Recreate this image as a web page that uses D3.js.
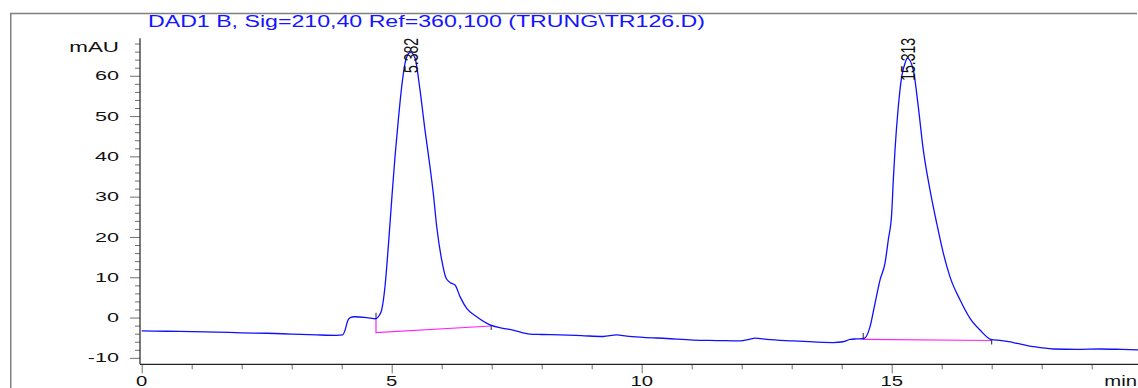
<!DOCTYPE html>
<html>
<head>
<meta charset="utf-8">
<script src="https://cdn.jsdelivr.net/npm/d3@7"></script>
<style>
    body { margin: 0; background: #fff; }
    svg { display: block; font-family: "Liberation Sans", Arial, sans-serif; }
</style>
</head>
<body>
<div id="chart"></div>
<script>
// signal trace, time in min and absorbance in mAU
const traceTime = [0, 0.5, 1.0, 1.5, 2.0, 2.5, 3.0, 3.5, 3.9, 4.02, 4.07, 4.12, 4.17, 4.25, 4.5, 4.686,
    4.75, 4.8, 4.866, 4.932, 5.0, 5.066, 5.132, 5.2, 5.266, 5.33, 5.38, 5.466, 5.566, 5.666, 5.766, 5.832,
    5.9, 6.0, 6.086, 6.166, 6.266, 6.366, 6.5, 6.7, 6.966, 7.2, 7.426, 7.766, 8.0, 8.37, 8.8, 9.23, 9.5,
    9.7, 10.03, 10.5, 11.03, 11.5, 11.97, 12.15, 12.27, 12.5, 13.03, 13.5, 13.83, 14.03, 14.17, 14.3,
    14.446, 14.566, 14.666, 14.766, 14.866, 14.932, 15.0, 15.032, 15.066, 15.132, 15.2, 15.266, 15.313,
    15.432, 15.532, 15.632, 15.766, 15.9, 16.032, 16.166, 16.366, 16.566, 16.766, 17.0, 17.2, 17.43,
    17.83, 18.23, 18.7, 19.17, 19.6, 19.93];
const traceSignal = [-3.3, -3.4, -3.5, -3.6, -3.8, -3.9, -4.1, -4.3, -4.4, -4.3, -3.0, -0.8, 0.0, 0.2, 0.0, -0.3,
    0.5, 1.9, 7.7, 17.6, 29.2, 39.9, 49.0, 57.3, 63.1, 65.4, 65.8, 64.4, 56.5, 46.5, 37.4, 30.8,
    22.6, 14.3, 9.8, 8.7, 8.1, 5.2, 2.3, 0.2, -1.8, -2.6, -3.1, -4.1, -4.2, -4.3, -4.5, -4.7, -4.3,
    -4.6, -4.9, -5.2, -5.6, -5.7, -5.8, -5.4, -5.1, -5.4, -5.8, -6.1, -6.2, -6.0, -5.4, -5.3,
    -5.2, -2.3, 3.5, 9.3, 13.5, 19.3, 25.9, 34.1, 41.6, 52.3, 59.8, 63.1, 64.4,
    61.4, 52.3, 41.6, 31.7, 23.4, 16.0, 10.1, 4.4, -0.2, -3.1, -5.5, -5.7, -6.2,
    -7.2, -7.8, -7.9, -7.8, -7.9, -8.0];

// integrated peaks
const peakTimes = [5.382, 15.313];
const peakLabels = ["5.382", "15.313"];
const baseStart = [[4.686, -3.75], [14.43, -5.4]];
const baseEnd = [[6.99, -2.1], [17.0, -5.7]];
const peakStartSignal = [-0.3, -5.3];

const yTicks = [-10, 0, 10, 20, 30, 40, 50, 60];
const xTicks = [0, 5, 10, 15];
const title = "DAD1 B, Sig=210,40 Ref=360,100 (TRUNG\\TR126.D)";

class ChromatogramD3 {
    size = {width: 1138, height: 388};
    axisX = 140;
    axisY = 364.3;
    yStretch = 1.6;
    xStretch = 1.45;
    svg;
    xScale;
    yScale;

    constructor(el){
        this.el = el;
    }

    create(){
        this.svg = d3.select(this.el).append("svg")
            .attr("width", this.size.width)
            .attr("height", this.size.height);

        this.xScale = d3.scaleLinear().domain([0, 20]).range([141.7, 1141.7]);
        this.yScale = d3.scaleLinear().domain([-11.6, 69.3]).range([364.3, 38.3]);

        // frame
        this.svg.append("path")
            .attr("d", "M10.75,388 V13.5 H1137")
            .attr("fill", "none")
            .attr("stroke", "#808080")
            .attr("stroke-width", 1.5);

        this.svg.append("text")
            .attr("x", 148).attr("y", 26.5)
            .attr("font-size", 16)
            .attr("fill", "#1414ff")
            .attr("textLength", 557)
            .attr("lengthAdjust", "spacingAndGlyphs")
            .text(title);
    }

    renderAxes(){
        const yMinor = d3.range(-10, 70, 2).filter(v => v % 10 !== 0);
        const yAxisG = this.svg.append("g")
            .attr("class", "yAxisG")
            .attr("transform", "translate(" + this.axisX + ",0)");
        yAxisG.append("g")
            .call(d3.axisLeft(this.yScale).tickValues(yMinor).tickSize(5).tickFormat(""))
            .call(g => g.select(".domain").remove());
        yAxisG.append("g")
            .call(d3.axisLeft(this.yScale).tickValues(yTicks).tickSize(10).tickFormat(""))
            .call(g => g.select(".domain").remove());
        yAxisG.selectAll(".tick line").attr("stroke", "#707070");

        // the print is stretched sideways, so labels are widened with a scale
        this.svg.append("g")
            .attr("class", "yLabelG")
            .selectAll(".yLabel")
            .data(yTicks)
            .join("text")
            .attr("class", "yLabel")
            .attr("transform", d => "translate(119," + (this.yScale(d) + 4.6) + ") scale(" + this.yStretch + ",1)")
            .attr("text-anchor", "end")
            .attr("font-size", 13.5)
            .attr("fill", "#111")
            .text(d => d);

        this.svg.append("text")
            .attr("transform", "translate(119,52.3) scale(" + this.yStretch + ",1)")
            .attr("text-anchor", "end")
            .attr("font-size", 14)
            .attr("fill", "#111")
            .text("mAU");

        const xMinor = d3.range(0, 20, 1).filter(v => v % 5 !== 0);
        const xAxisG = this.svg.append("g")
            .attr("class", "xAxisG")
            .attr("transform", "translate(0," + this.axisY + ")");
        xAxisG.append("g")
            .call(d3.axisBottom(this.xScale).tickValues(xMinor).tickSize(5).tickFormat(""))
            .call(g => g.select(".domain").remove());
        xAxisG.append("g")
            .call(d3.axisBottom(this.xScale).tickValues(xTicks).tickSize(9).tickFormat(""))
            .call(g => g.select(".domain").remove());
        xAxisG.selectAll(".tick line").attr("stroke", "#707070");

        this.svg.append("g")
            .attr("class", "xLabelG")
            .selectAll(".xLabel")
            .data(xTicks)
            .join("text")
            .attr("class", "xLabel")
            .attr("transform", d => "translate(" + this.xScale(d) + ",385.6) scale(" + this.xStretch + ",1)")
            .attr("text-anchor", "middle")
            .attr("font-size", 14)
            .attr("fill", "#111")
            .text(d => d);

        this.svg.append("text")
            .attr("transform", "translate(1137,385.6) scale(" + this.xStretch + ",1)")
            .attr("text-anchor", "end")
            .attr("font-size", 14)
            .attr("fill", "#111")
            .text("min");

        // axis lines
        this.svg.append("line")
            .attr("x1", this.axisX).attr("x2", this.axisX)
            .attr("y1", this.yScale.range()[1]).attr("y2", this.axisY)
            .attr("stroke", "#222").attr("stroke-width", 1.2);
        this.svg.append("line")
            .attr("x1", this.axisX).attr("x2", this.size.width)
            .attr("y1", this.axisY).attr("y2", this.axisY)
            .attr("stroke", "#222").attr("stroke-width", 1.2);
    }

    renderTrace(){
        const points = traceTime.map((t, i) => ({t: t, v: traceSignal[i]}));
        const line = d3.line()
            .x(d => this.xScale(d.t))
            .y(d => this.yScale(d.v))
            .curve(d3.curveMonotoneX);

        // baselines under peaks
        const baseG = this.svg.append("g").attr("class", "baseG");
        baseG.selectAll(".baseLine")
            .data(baseStart.map((s, i) => ({s: s, e: baseEnd[i], top: peakStartSignal[i]})))
            .join("path")
            .attr("class", "baseLine")
            .attr("fill", "none")
            .attr("stroke", "#ff22ff")
            .attr("stroke-width", 1.2)
            .attr("d", d => "M" + this.xScale(d.s[0]) + "," + this.yScale(d.top)
                + "V" + this.yScale(d.s[1])
                + "L" + this.xScale(d.e[0]) + "," + this.yScale(d.e[1]));

        this.svg.append("path")
            .datum(points)
            .attr("class", "traceLine")
            .attr("fill", "none")
            .attr("stroke", "#1010ff")
            .attr("stroke-width", 1.3)
            .attr("d", line);

        // start / end marks of integration
        const marks = [];
        baseStart.forEach((s, i) => {
            marks.push({t: s[0], v: peakStartSignal[i], dir: -1});
            marks.push({t: baseEnd[i][0], v: baseEnd[i][1], dir: 1});
        });
        baseG.selectAll(".markLine")
            .data(marks)
            .join("line")
            .attr("class", "markLine")
            .attr("stroke", "#222")
            .attr("stroke-width", 1)
            .attr("x1", d => this.xScale(d.t)).attr("x2", d => this.xScale(d.t))
            .attr("y1", d => this.yScale(d.v) - (d.dir < 0 ? 6 : 1))
            .attr("y2", d => this.yScale(d.v) + (d.dir < 0 ? 0 : 4));

        // retention time labels
        this.svg.selectAll(".peakLabel")
            .data(peakTimes)
            .join("text")
            .attr("class", "peakLabel")
            .attr("transform", d => "translate(" + this.xScale(d) + ",38) scale(1.5,1) rotate(-90)")
            .attr("text-anchor", "end")
            .attr("dy", "0.36em")
            .attr("font-size", 14)
            .attr("fill", "#111")
            .text((d, i) => peakLabels[i]);
    }
}

const chart = new ChromatogramD3(document.getElementById("chart"));
chart.create();
chart.renderAxes();
chart.renderTrace();
</script>
</body>
</html>
